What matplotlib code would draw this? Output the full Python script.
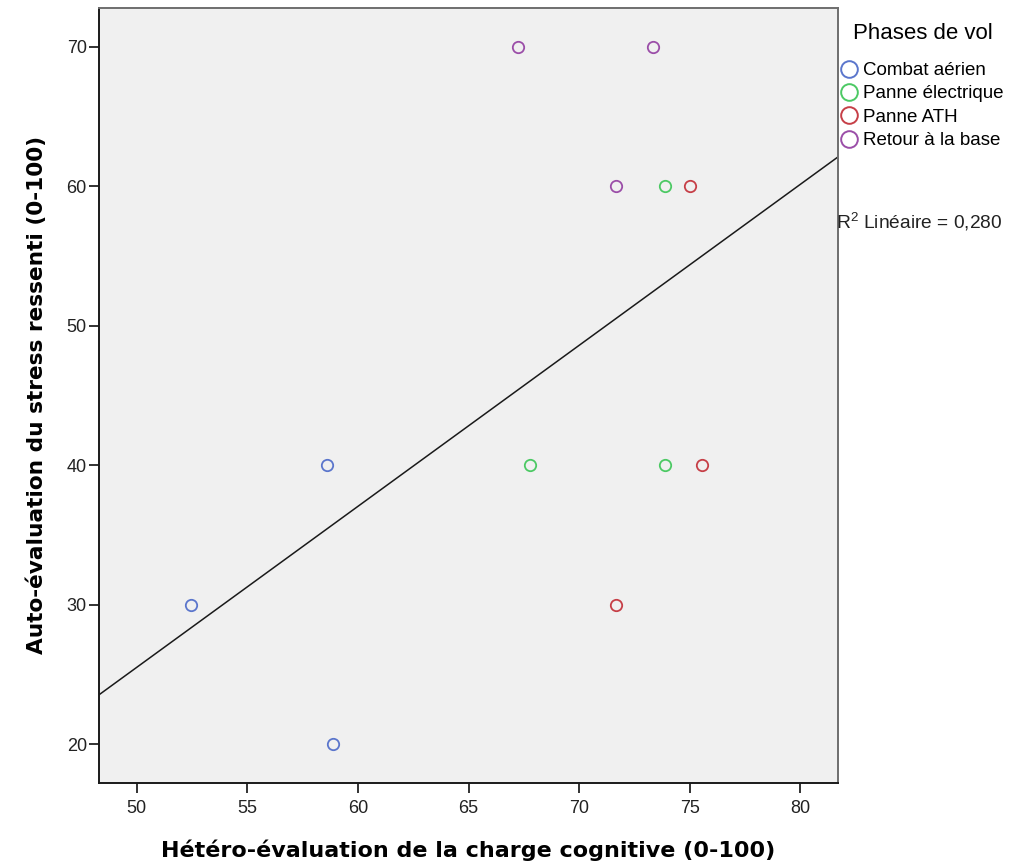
import numpy as np
import matplotlib
matplotlib.use("Agg")
import matplotlib.pyplot as plt
from matplotlib.lines import Line2D

plt.rcParams['font.family'] = ['Liberation Sans', 'DejaVu Sans']
plt.rcParams['mathtext.fontset'] = 'custom'
plt.rcParams['mathtext.rm'] = 'Liberation Sans'

# Flight phases and their observations (x: hetero-evaluation, y: self-evaluation)
phases = ["Combat aérien", "Panne électrique", "Panne ATH", "Retour à la base"]
colors = ["#5b76cc", "#4cc964", "#c63f47", "#9b4ea8"]
combat_x = [52.47, 58.59, 58.86]
combat_y = [30, 40, 20]
elec_x = [67.80, 73.88, 73.90]
elec_y = [40, 40, 60]
ath_x = [75.02, 75.57, 71.67]
ath_y = [60, 40, 30]
retour_x = [67.22, 73.33, 71.67]
retour_y = [70, 70, 60]
series_x = [combat_x, elec_x, ath_x, retour_x]
series_y = [combat_y, elec_y, ath_y, retour_y]

x_ticks = [50, 55, 60, 65, 70, 75, 80]
y_ticks = [20, 30, 40, 50, 60, 70]
r2_label = 0.280

fig = plt.figure(figsize=(10.22, 8.64), dpi=100)
fig.patch.set_facecolor("white")
ax = fig.add_axes([99.3 / 1022, 1 - 783.3 / 864, (837.7 - 99.3) / 1022, (783.3 - 7.5) / 864])
ax.set_facecolor("#f0f0f0")

xlim = (48.31, 81.69)
ylim = (17.2, 72.81)

# Linear fit over all observations
all_x = np.concatenate([np.array(v, float) for v in series_x])
all_y = np.concatenate([np.array(v, float) for v in series_y])
slope, intercept = np.polyfit(all_x, all_y, 1)
xs = np.array(xlim)
ax.plot(xs, slope * xs + intercept, color="#1a1a1a", lw=1.1, zorder=2)

for xv, yv, c in zip(series_x, series_y, colors):
    ax.plot(xv, yv, ls="none", marker="o", ms=8.2, mfc="none", mec=c, mew=1.3, zorder=3)

ax.set_xlim(*xlim)
ax.set_ylim(*ylim)
ax.set_xticks(x_ticks)
ax.set_yticks(y_ticks)
ax.tick_params(direction="out", length=7, width=1.3, color="#222222",
               labelsize=13, labelcolor="#222222", pad=2)
ax.tick_params(axis="x", pad=5)

for side in ("left", "bottom"):
    ax.spines[side].set_color("#1a1a1a")
    ax.spines[side].set_linewidth(1.4)
for side in ("top", "right"):
    ax.spines[side].set_color("#6e6e6e")
    ax.spines[side].set_linewidth(1.4)

ax.set_xlabel("Hétéro-évaluation de la charge cognitive (0-100)",
              fontsize=16, fontweight="bold", family="DejaVu Sans", labelpad=16)
ax.set_ylabel("Auto-évaluation du stress ressenti (0-100)",
              fontsize=15.6, fontweight="bold", family="DejaVu Sans", labelpad=14)

handles = [Line2D([], [], ls="none", marker="o", ms=12, mfc="none", mec=c, mew=1.4)
           for c in colors]
leg = fig.legend(handles, phases, title="Phases de vol", loc="upper left",
                 bbox_to_anchor=(842 / 1022, 1 - 23 / 864), frameon=False,
                 fontsize=13.5, title_fontsize=16, handlelength=0.75,
                 handletextpad=0.35, labelspacing=0.33, borderpad=0,
                 borderaxespad=0)
leg._legend_box.sep = 13

fig.text(836 / 1022, 1 - 222 / 864,
         "R$^{2}$ Linéaire = " + f"{r2_label:.3f}".replace(".", ","),
         fontsize=13.8, ha="left", va="center", color="#222222")

fig.savefig("out.png", dpi=100, facecolor="white")
